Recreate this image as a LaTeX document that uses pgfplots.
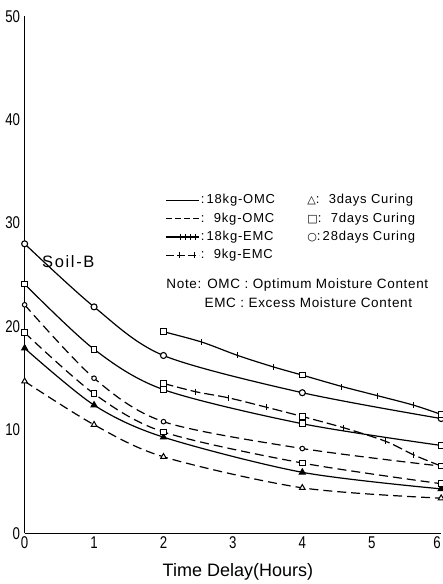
\documentclass[border=0pt]{standalone}
\usepackage{fontspec}
\setmainfont{Liberation Sans}
\newfontfamily\narrowfont[FakeStretch=0.78]{Liberation Sans}
\newfontfamily\spacedfont[LetterSpace=6]{Liberation Sans}
\newfontfamily\notefont[LetterSpace=5]{Liberation Sans}
\newfontfamily\soilfont[LetterSpace=10]{Liberation Sans}
\newfontfamily\symfont{DejaVu Sans}
\usepackage{pgfplots}
\pgfplotsset{compat=1.18}
\begin{document}
\begin{tikzpicture}[x=1bp,y=1bp]
\begin{axis}[
  at={(35.5,49)}, anchor=origin,
  scale only axis, width=416.5bp, height=517bp,
  xmin=0, xmax=6, ymin=0, ymax=50,
  axis lines=left, axis line style={-, line width=1.4bp},
  xtick={0,1,...,6}, ytick={0,10,...,50},
  xticklabels={0,1,2,3,4,5,{\hspace*{-8bp}6}},
  major tick length=0pt,
  tick label style={font=\narrowfont\fontsize{17bp}{17bp}\selectfont},
  yticklabel style={xshift=-1bp},
  /pgf/number format/assume math mode=true,
  xlabel={Time Delay(Hours)},
  xlabel style={font=\fontsize{18bp}{18bp}\selectfont, at={(axis description cs:0.5,0)}, anchor=north, yshift=-30bp, xshift=5bp, inner sep=0pt},
  clip=false,
  legend style={at={(axis cs:2.03,32.9)}, anchor=north west, draw=none, fill=none,
    font=\spacedfont\fontsize{13bp}{14bp}\selectfont, inner sep=0pt, row sep=4.3bp,
    nodes={inner sep=1bp, text height=9.5bp, text depth=2.5bp},
    /tikz/every even column/.append style={column sep=0bp}},
  legend cell align=left,
]
% legend samples
\addlegendimage{legend image code/.code={\draw[line width=1.2bp] (0bp,0bp)--(33bp,0bp);}}
\addlegendentry{:\,18kg-OMC}
\addlegendimage{legend image code/.code={\draw[line width=1.2bp, dash pattern=on 6bp off 3bp] (0bp,0bp)--(33bp,0bp);}}
\addlegendentry{:\,\phantom{1}9kg-OMC}
\addlegendimage{legend image code/.code={\draw[line width=1.2bp] (0bp,0bp)--(33bp,0bp); \foreach \t in {14,19,24,29}{\draw[line width=1bp] (\t bp,-3bp)--(\t bp,3bp);}}}
\addlegendentry{:\,18kg-EMC}
\addlegendimage{legend image code/.code={\draw[line width=1.2bp, dash pattern=on 8bp off 3bp] (0bp,0bp)--(33bp,0bp); \foreach \t in {13,28}{\draw[line width=1bp] (\t bp,-3bp)--(\t bp,3bp);}}}
\addlegendentry{:\,\phantom{1}9kg-EMC}

% 18kg-OMC (solid)
\addplot[forget plot, smooth, line width=1.2bp, mark=*, mark size=3bp, mark options={solid, line width=1.1bp, fill=white}]
  coordinates {(0,28.0) (1,21.9) (2,17.2) (4,13.6) (6,11.1)};
\addplot[forget plot, smooth, line width=1.2bp, mark=square*, mark size=2.8bp, mark options={solid, line width=1.1bp, fill=white}]
  coordinates {(0,24.1) (1,17.8) (2,13.9) (4,10.6) (6,8.5)};
\addplot[forget plot, smooth, line width=1.2bp, mark=triangle*, mark size=3.5bp, mark options={solid, line width=1bp, fill=black}]
  coordinates {(0,17.9) (1,12.4) (2,9.3) (4,5.9) (6,4.3)};
% 9kg-OMC (dashed)
\addplot[forget plot, smooth, line width=1.2bp, dash pattern=on 9bp off 5bp, mark=*, mark size=2.3bp, mark options={solid, line width=1bp, fill=white}]
  coordinates {(0,22.1) (1,15.0) (2,10.8) (4,8.2) (6,6.5)};
\addplot[forget plot, smooth, line width=1.2bp, dash pattern=on 9bp off 5bp, mark=square*, mark size=2.8bp, mark options={solid, line width=1bp, fill=white}]
  coordinates {(0,19.4) (1,13.5) (2,9.8) (4,6.8) (6,4.8)};
\addplot[forget plot, smooth, line width=1.2bp, dash pattern=on 9bp off 5bp, mark=triangle*, mark size=3.3bp, mark options={solid, line width=1bp, fill=white}]
  coordinates {(0,14.7) (1,10.5) (2,7.4) (4,4.4) (6,3.4)};
% 18kg-EMC
\addplot[forget plot, smooth, line width=1.2bp, mark=|, mark size=3bp, mark indices={2,3,4,6,7,8}, mark options={solid, line width=1bp}]
  coordinates {(2,19.5) (2.55,18.5) (3.07,17.2) (3.58,16.1) (4,15.3) (4.57,14.2) (5.09,13.3) (5.6,12.4) (6,11.5)};
\addplot[forget plot, only marks, mark=square*, mark size=2.8bp, mark options={solid, line width=1.1bp, fill=white}]
  coordinates {(2,19.5) (4,15.3) (6,11.5)};
% 9kg-EMC
\addplot[forget plot, smooth, line width=1.2bp, dash pattern=on 10bp off 4bp, mark=|, mark size=3bp, mark indices={2,3,4,6,7,8}, mark options={solid, line width=1bp}]
  coordinates {(2,14.5) (2.46,13.7) (2.94,13.1) (3.48,12.2) (4,11.3) (4.6,10.2) (5.2,8.9) (5.6,7.6) (6,6.5)};
\addplot[forget plot, only marks, mark=square*, mark size=2.8bp, mark options={solid, line width=1.1bp, fill=white}]
  coordinates {(2,14.5) (4,11.3) (6,6.5)};

% texts
\node[anchor=west, inner sep=0pt, font=\soilfont\fontsize{16.5bp}{17bp}\selectfont] at (axis cs:0.25,26.3) {Soil-B};
\node[anchor=west, inner sep=0pt, font=\spacedfont\fontsize{13bp}{14bp}\selectfont] at (axis cs:4.07,32.2) {{\symfont\bfseries\fontsize{11bp}{12bp}\selectfont △}:\,\phantom{2}3days Curing};
\node[anchor=west, inner sep=0pt, font=\spacedfont\fontsize{13bp}{14bp}\selectfont] at (axis cs:4.07,30.4) {{\symfont\bfseries\fontsize{11bp}{12bp}\selectfont □}:\,\phantom{2}7days Curing};
\node[anchor=west, inner sep=0pt, font=\spacedfont\fontsize{13bp}{14bp}\selectfont] at (axis cs:4.07,28.6) {{\symfont\bfseries\fontsize{11bp}{12bp}\selectfont ○}:\,28days Curing};
\node[anchor=west, inner sep=0pt, font=\notefont\fontsize{13.5bp}{14bp}\selectfont] at (axis cs:2.04,24.05) {Note: OMC : Optimum Moisture Content};
\node[anchor=west, inner sep=0pt, font=\notefont\fontsize{13.5bp}{14bp}\selectfont] at (axis cs:2.59,22.35) {EMC : Excess Moisture Content};
\end{axis}
\pgfresetboundingbox
\path[use as bounding box] (0,0) rectangle (443,584);
\end{tikzpicture}
\end{document}
